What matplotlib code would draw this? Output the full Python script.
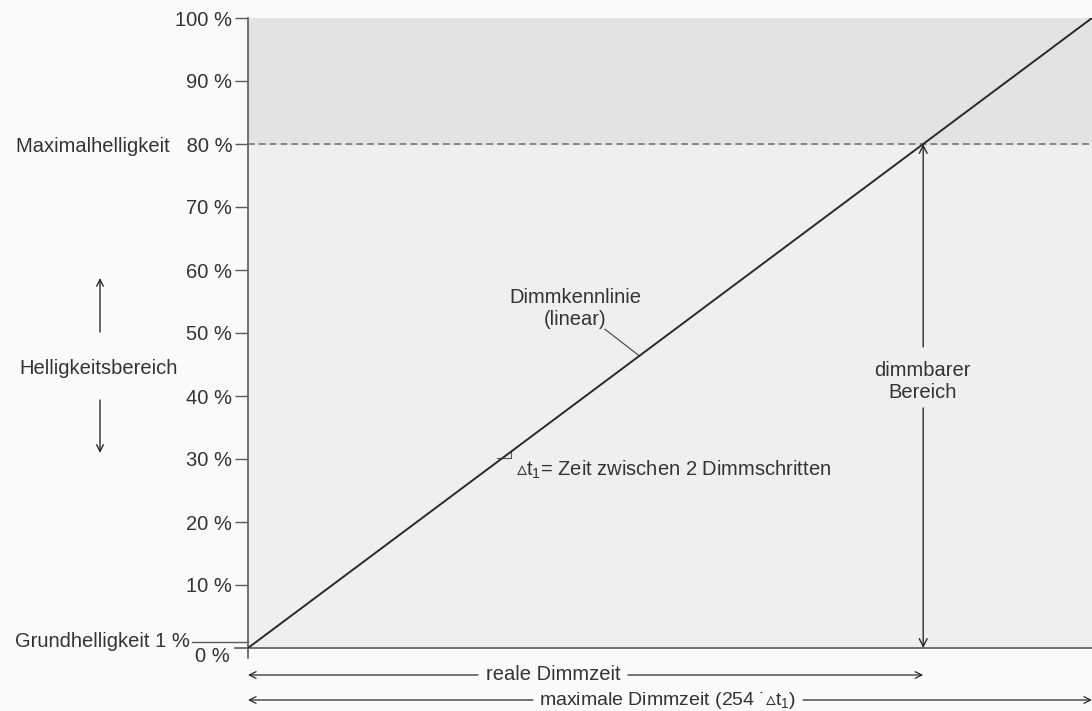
import numpy as np
import matplotlib.pyplot as plt

plt.rcParams['font.family'] = ['Liberation Sans', 'DejaVu Sans']

# ------------------------------
# Daten
# ------------------------------
schritte = [0, 254]          # Dimmschritte (x)
helligkeit = [0, 100]        # Helligkeit in % (y)
max_hell = 80                # Maximalhelligkeit
grund_hell = 1               # Grundhelligkeit
y_ticks = [10, 20, 30, 40, 50, 60, 70, 80, 90, 100]
y_labels = ['10 %', '20 %', '30 %', '40 %', '50 %', '60 %', '70 %',
            'Maximalhelligkeit   80 %', '90 %', '100 %']
reale_zeit = schritte[1] * max_hell / 100   # Ende der realen Dimmzeit

W, H = 1092, 711
fs = 14.5
txt = '#333333'
grau = '#5a5a5a'
dunkel = '#2a2a2a'

fig = plt.figure(figsize=(W / 100, H / 100), dpi=100, facecolor='#fafafa')
ax = fig.add_axes([248 / W, (H - 648) / H, (W - 248) / W, (648 - 18) / H])
ax.set_xlim(0, 254)
ax.set_ylim(0, 100)
ax.set_facecolor('#efeff0')
ax.axhspan(max_hell, 100, color='#e3e3e4', zorder=0)

for s in ax.spines.values():
    s.set_visible(False)

# Achsenlinien
ax.plot([0, 0], [-1.6, 100], color=grau, lw=1.2, clip_on=False)
ax.plot([-3.9, 254], [0, 0], color=grau, lw=1.2, clip_on=False)
ax.plot([-16.9, 0], [grund_hell, grund_hell], color=grau, lw=1.0, clip_on=False)

ax.set_xticks([])
ax.set_yticks(y_ticks)
ax.set_yticklabels(y_labels)
ax.tick_params(axis='y', length=9.4, width=1.0, color=grau, labelsize=fs,
               labelcolor=txt, pad=2)

ax.text(-5.4, -1.4, '0 %', ha='right', va='center', fontsize=fs, color=txt,
        clip_on=False)
ax.text(-17.5, 1.0, 'Grundhelligkeit 1 %', ha='right', va='center',
        fontsize=fs, color=txt, clip_on=False)

# Maximalhelligkeit gestrichelt
ax.plot([0, 254], [max_hell, max_hell], color='#777777', lw=1.2,
        ls=(0, (4, 2.5)))

# Dimmkennlinie
ax.plot(schritte, helligkeit, color=dunkel, lw=1.4, zorder=5)

# Beschriftung Kennlinie
ax.text(98.5, 53.9, 'Dimmkennlinie\n(linear)', ha='center', va='center',
        fontsize=fs, color=txt, linespacing=1.2)
ax.plot([107.4, 117.7], [50.6, 46.4], color='#555555', lw=0.9)

# kleines Dreieck für Delta t1
ax.plot([75, 79, 79], [30.2, 30.2, 31.3], color='#555555', lw=0.8)
ax.text(80.7, 28.3, '$\\vartriangle\\mathregular{t_1}$= Zeit zwischen 2 Dimmschritten',
        ha='left', va='center', fontsize=fs, color=txt)

# dimmbarer Bereich (Doppelpfeil mit Lücke)
ax.annotate('', xy=(reale_zeit, max_hell), xytext=(reale_zeit, 47.8),
            arrowprops=dict(arrowstyle='->', color=dunkel, lw=1.0,
                            mutation_scale=14, shrinkA=0, shrinkB=0))
ax.annotate('', xy=(reale_zeit, 0), xytext=(reale_zeit, 38.1),
            arrowprops=dict(arrowstyle='->', color=dunkel, lw=1.0,
                            mutation_scale=14, shrinkA=0, shrinkB=0))
ax.text(reale_zeit - 0.3, 42.3, 'dimmbarer\nBereich', ha='center',
        va='center', fontsize=fs, color=txt, linespacing=1.2)

# Helligkeitsbereich links
fig.text(99 / W, 1 - 368 / H, 'Helligkeitsbereich', ha='center', va='center',
         fontsize=fs, color=txt)
ax.annotate('', xy=(100 / W, 1 - 278 / H), xytext=(100 / W, 1 - 332 / H),
            xycoords='figure fraction', textcoords='figure fraction',
            arrowprops=dict(arrowstyle='->', color=dunkel, lw=1.0,
                            mutation_scale=12, shrinkA=0, shrinkB=0))
ax.annotate('', xy=(100 / W, 1 - 453 / H), xytext=(100 / W, 1 - 400 / H),
            xycoords='figure fraction', textcoords='figure fraction',
            arrowprops=dict(arrowstyle='->', color=dunkel, lw=1.0,
                            mutation_scale=12, shrinkA=0, shrinkB=0))


# Zeitpfeile unten
def zeitpfeil(y_pix, x_ende, text, x_text, halb, gr):
    yf = 1 - y_pix / H
    x0 = ax.transData.transform((0, 0))[0] / W
    x1 = ax.transData.transform((x_ende, 0))[0] / W
    xt = x_text / W
    ax.annotate('', xy=(x0, yf), xytext=(xt - halb / W, yf),
                xycoords='figure fraction', textcoords='figure fraction',
                arrowprops=dict(arrowstyle='->', color=dunkel, lw=0.9,
                                mutation_scale=12, shrinkA=0, shrinkB=0))
    ax.annotate('', xy=(x1, yf), xytext=(xt + halb / W, yf),
                xycoords='figure fraction', textcoords='figure fraction',
                arrowprops=dict(arrowstyle='->', color=dunkel, lw=0.9,
                                mutation_scale=12, shrinkA=0, shrinkB=0))
    fig.text(xt, yf, text, ha='center', va='center', fontsize=gr, color=txt)


zeitpfeil(675, reale_zeit, 'reale Dimmzeit', 553, 75, fs)
zeitpfeil(700, 254, 'maximale Dimmzeit (254 \u02d9$\\vartriangle\\mathregular{t_1}$)',
          668, 135, 14)

fig.savefig('out.png', dpi=100, facecolor=fig.get_facecolor())
